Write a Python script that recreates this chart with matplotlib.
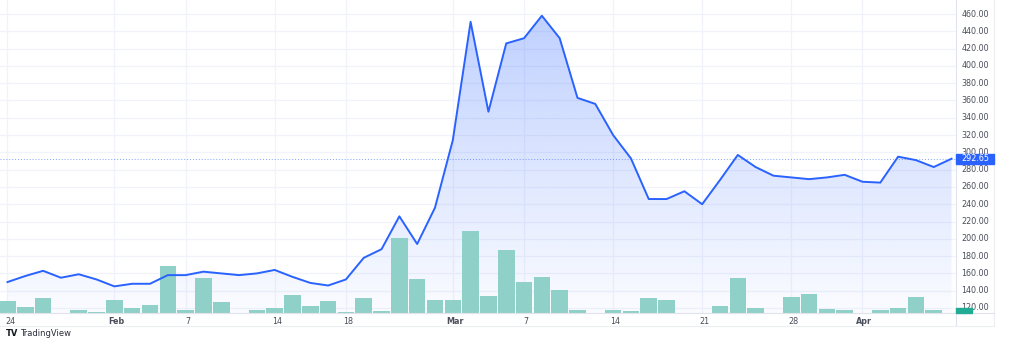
import numpy as np
import pandas as pd
import matplotlib
matplotlib.use("Agg")
import matplotlib.pyplot as plt
from matplotlib.patches import Rectangle

# daily closes, 24 Jan - 8 Apr 2022 (trading days, 21 Feb holiday)
dates = pd.bdate_range("2022-01-24", "2022-04-08").drop(pd.Timestamp("2022-02-21"))
close = [150, 157, 163, 155, 159, 153, 145, 148, 148, 158,
         158, 162, 160, 158, 160, 164, 156, 149, 146, 153,
         178, 188, 226, 194, 236, 314, 451, 347, 426, 432,
         458, 432, 363, 356, 320, 293, 246, 246, 255, 240,
         268, 297, 283, 273, 271, 269, 271, 274, 266, 265,
         295, 291, 283, 292.65]
volume = [12, 6, 15, 0.5, 3.5, 0.7, 13, 4.7, 8, 47,
          3, 34.7, 11, 0.5, 3.3, 5.3, 17.7, 6.7, 12, 1.3,
          15.3, 2, 75, 34.3, 13.3, 13, 82.3, 17, 62.7, 31,
          36.3, 23, 3.3, 0.3, 3.3, 1.7, 15, 13.3, 0.3, 0.2,
          6.7, 34.7, 5, 0.5, 16.3, 19, 4.3, 2.7, 0.3, 3,
          5, 16.3, 3, 0]
tick_idx = [0, 6, 10, 15, 19, 25, 29, 34, 39, 44, 48]
tick_labels = ["24", "Feb", "7", "14", "18", "Mar", "7", "14", "21", "28", "Apr"]
price_ticks = list(range(120, 461, 20))
last_price = close[-1]

LINE = "#2962FF"
GRID = "#f0f3fa"
TXT = "#4a4e5a"

W, H = 1024, 344
fig = plt.figure(figsize=(W / 100, H / 100), dpi=100)
fig.patch.set_facecolor("white")

plot_r, plot_b = 956, 313
ax = fig.add_axes([0, 1 - plot_b / H, plot_r / W, plot_b / H])
x = np.arange(len(close))
ylo, yhi = 114.2, 476.2
ax.set_xlim(-0.42, 53.25)
ax.set_ylim(ylo, yhi)
ax.set_facecolor("white")

# grid
for t in price_ticks:
    ax.axhline(t, color=GRID, lw=0.9, zorder=0)
for i in tick_idx:
    ax.axvline(i, color=GRID, lw=0.9, zorder=0)

# area gradient
poly = ax.fill_between(x, close, ylo, color="none", lw=0)
grad = np.zeros((256, 1, 4))
grad[:, 0, :3] = matplotlib.colors.to_rgb(LINE)
grad[:, 0, 3] = np.linspace(0.30, 0.02, 256)
im = ax.imshow(grad, aspect="auto", extent=[-0.42, 53.25, ylo, 460],
               origin="upper", zorder=1)
im.set_clip_path(poly.get_paths()[0], transform=ax.transData)

# volume bars, scaled to the bottom of the pane
vol_top = 313.0
ax.bar(x, np.array(volume) / vol_top, width=0.93, bottom=0,
       color="#8fd0c8", transform=ax.get_xaxis_transform(), zorder=2)

ax.plot(x, close, color=LINE, lw=1.4, zorder=3)
ax.axhline(last_price, color=LINE, lw=0.7, ls=(0, (1, 2)), alpha=0.6, zorder=3)

for s in ax.spines.values():
    s.set_visible(False)
ax.set_xticks([])
ax.set_yticks([])


def py(p):
    return (1 - plot_b / H) + (p - ylo) / (yhi - ylo) * plot_b / H


# price axis labels
for t in price_ticks:
    fig.text(975 / W, py(t), f"{t:.2f}", fontsize=5.8, color=TXT,
             ha="center", va="center")
fig.patches.append(Rectangle((956 / W, py(last_price) - 5 / H), 38 / W, 10 / H,
                             transform=fig.transFigure, color=LINE, zorder=5))
fig.text(975 / W, py(last_price), f"{last_price:.2f}", fontsize=5.8,
         color="white", ha="center", va="center", zorder=6)
fig.patches.append(Rectangle((956 / W, 31 / H), 16 / W, 5 / H,
                             transform=fig.transFigure, color="#22ab94", zorder=5))

# frame lines of the axis panels
fig.add_artist(plt.Line2D([plot_r / W] * 2, [18 / H, 1], color="#e0e3eb", lw=0.8))
fig.add_artist(plt.Line2D([994 / W] * 2, [18 / H, 1], color="#eceef2", lw=0.8))
fig.add_artist(plt.Line2D([0, 994 / W], [31 / H] * 2, color="#e0e3eb", lw=0.8))
fig.add_artist(plt.Line2D([0, 994 / W], [18 / H] * 2, color="#eceef2", lw=0.8))

# time labels
for i, lab in zip(tick_idx, tick_labels):
    xf = (8 + 17.8 * i) / W
    fig.text(xf + 2 / W, 23 / H, lab, fontsize=5.8, color=TXT, ha="center",
             va="center", fontweight="bold" if lab.isalpha() else "normal")

fig.text(6 / W, 10 / H, "TV", fontsize=6, color="#131722", fontweight="bold",
         va="center")
fig.text(20 / W, 10 / H, "TradingView", fontsize=6, color="#2a2e39", va="center")

fig.savefig("out.png", dpi=100)
